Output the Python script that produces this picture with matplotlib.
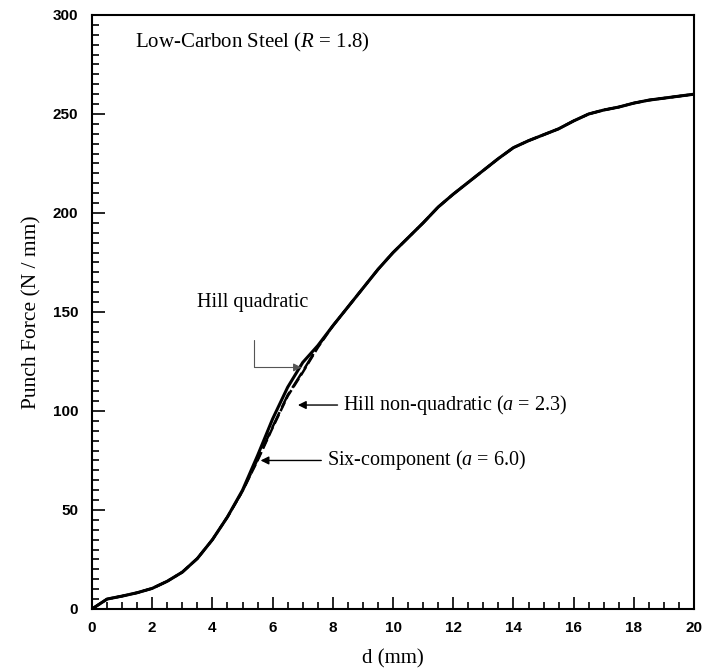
import matplotlib
matplotlib.use('Agg')
import matplotlib.pyplot as plt
from matplotlib.ticker import MultipleLocator

plt.rcParams['mathtext.fontset'] = 'custom'
plt.rcParams['mathtext.rm'] = 'Liberation Serif'
plt.rcParams['mathtext.it'] = 'Liberation Serif:italic'

# punch displacement (mm)
d = [0, 0.5, 1.0, 1.5, 2.0, 2.5, 3.0, 3.5, 4.0, 4.5, 5.0, 5.5, 6.0, 6.5,
     7.0, 7.5, 8.0, 8.5, 9.0, 9.5, 10.0, 10.5, 11.0, 11.5, 12.0, 12.5, 13.0,
     13.5, 14.0, 14.5, 15.0, 15.5, 16.0, 16.5, 17.0, 17.5, 18.0, 18.5, 19.0,
     19.5, 20.0]

# punch force (N/mm)
hill_quad = [0, 5, 6.5, 8.2, 10.4, 14, 18.6, 25.5, 35, 46.5, 60, 77.5, 96, 112,
             124.5, 133, 143, 152.5, 162, 171.5, 180, 187.5, 195, 203, 209.5,
             215.5, 221.5, 227.5, 233, 236.5, 239.5, 242.5, 246.5, 250, 252,
             253.5, 255.5, 257, 258, 259, 260]
hill_nonquad = [0, 5, 6.5, 8.2, 10.4, 14, 18.6, 25.5, 35, 46.5, 59.5, 75.5, 92,
                108, 120, 132.5, 143, 152.5, 162, 171.5, 180, 187.5, 195, 203,
                209.5, 215.5, 221.5, 227.5, 233, 236.5, 239.5, 242.5, 246.5,
                250, 252, 253.5, 255.5, 257, 258, 259, 260]
six_comp = [0, 5, 6.5, 8.2, 10.4, 14, 18.6, 25.5, 35, 46.5, 59.5, 75, 91.5,
            107.5, 119.5, 132, 143, 152.5, 162, 171.5, 180, 187.5, 195, 203,
            209.5, 215.5, 221.5, 227.5, 233, 236.5, 239.5, 242.5, 246.5, 250,
            252, 253.5, 255.5, 257, 258, 259, 260]

serif = ['Liberation Serif', 'DejaVu Serif']

fig = plt.figure(figsize=(7.05, 6.72), dpi=100)
ax = fig.add_axes([0.1305, 0.0938, 0.854, 0.8839])

ax.plot(d, hill_quad, color='black', lw=2.2, solid_joinstyle='round')
ax.plot(d, hill_nonquad, color='black', lw=1.8, ls=(0, (7, 2)),
        dash_joinstyle='round')
ax.plot(d, six_comp, color='black', lw=1.8, ls=(0, (4, 1.5)),
        dash_joinstyle='round')

ax.set_xlim(0, 20)
ax.set_ylim(0, 300)
ax.xaxis.set_major_locator(MultipleLocator(2))
ax.xaxis.set_minor_locator(MultipleLocator(0.5))
ax.yaxis.set_major_locator(MultipleLocator(50))
ax.yaxis.set_minor_locator(MultipleLocator(5))
ax.tick_params(which='both', direction='in', top=False, right=False, width=1.2)
ax.tick_params(which='major', length=9)
ax.tick_params(which='minor', length=5)
ax.tick_params(axis='x', pad=9)
ax.tick_params(axis='y', pad=10)
for lab in ax.get_xticklabels() + ax.get_yticklabels():
    lab.set_fontfamily('Liberation Sans')
    lab.set_fontweight('bold')
    lab.set_fontsize(11)
for sp in ax.spines.values():
    sp.set_linewidth(1.5)

ax.set_xlabel('d (mm)', family=serif, fontsize=15, labelpad=10)
ax.set_ylabel('Punch Force (N / mm)', family=serif, fontsize=15.5, labelpad=8)

ax.text(1.43, 286, 'Low-Carbon Steel ($\\mathit{R}$ = 1.8)', family=serif,
        fontsize=15, va='center', ha='left')

ax.text(3.5, 155, 'Hill quadratic', family=serif, fontsize=14.5,
        va='center', ha='left')
ax.annotate('', xy=(6.96, 122), xytext=(5.37, 136),
            arrowprops=dict(arrowstyle='-|>', color='#555555', lw=0.8,
                            connectionstyle='angle,angleA=90,angleB=0,rad=0',
                            shrinkA=0, shrinkB=0, mutation_scale=12))

ax.annotate('Hill non-quadratic ($\\mathit{a}$ = 2.3)', xy=(6.84, 103),
            xytext=(8.34, 103), family=serif, fontsize=14.5, va='center',
            arrowprops=dict(arrowstyle='-|>', color='black', lw=1.0,
                            shrinkA=2, shrinkB=0, mutation_scale=12))
ax.annotate('Six-component ($\\mathit{a}$ = 6.0)', xy=(5.6, 75),
            xytext=(7.8, 75), family=serif, fontsize=14.5, va='center',
            arrowprops=dict(arrowstyle='-|>', color='black', lw=1.0,
                            shrinkA=2, shrinkB=0, mutation_scale=12))

fig.savefig('out.png', dpi=100)
